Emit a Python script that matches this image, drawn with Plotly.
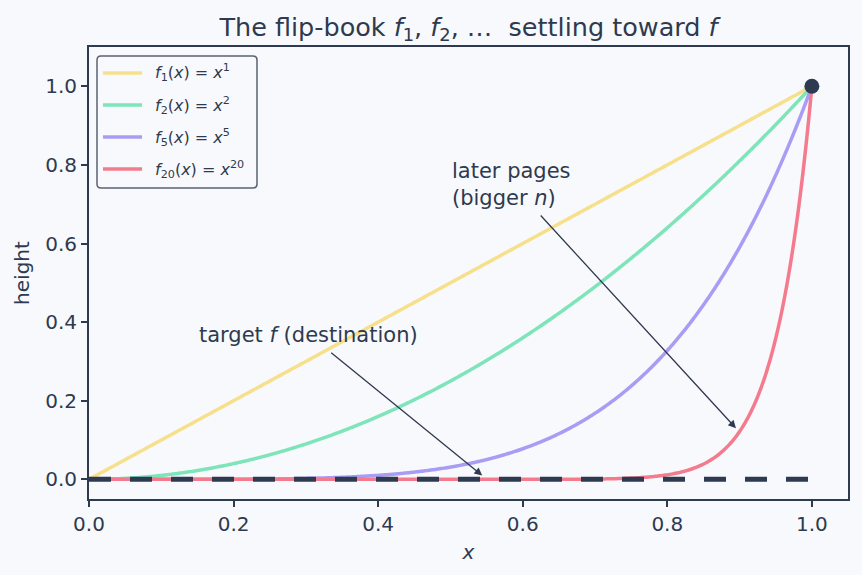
import numpy as np
import plotly.graph_objects as go

# ---- data ----
exponents = [1, 2, 5, 20]
colors = ["#f7e08c", "#7ee4b9", "#a99cf4", "#f47b8d"]
x_grid = np.linspace(0.0, 1.0, 500)
target_x = [0.0, 1.0]
target_y = [0.0, 0.0]
endpoint_x = [1.0]
endpoint_y = [1.0]
x_ticks = [0.0, 0.2, 0.4, 0.6, 0.8, 1.0]
y_ticks = [0.0, 0.2, 0.4, 0.6, 0.8, 1.0]

DARK = "#2e3a4f"
BG = "#f8f9fc"
FONT = "DejaVu Sans"

# plot area in pixels (for legend placement in paper coordinates)
W, H = 862, 575
ML, MR, MT, MB = 89, 14, 47, 76
PW, PH = W - ML - MR, H - MT - MB


def px_x(p):
    return (p - ML) / PW


def px_y(p):
    return (H - MB - p) / PH


fig = go.Figure()
labels = []
for n, c in zip(exponents, colors):
    name = f"<i>f</i><sub>{n}</sub>(<i>x</i>) = <i>x</i><sup>{n}</sup>"
    labels.append(name)
    fig.add_trace(go.Scatter(
        x=x_grid, y=x_grid ** n, mode="lines",
        line=dict(color=c, width=3.5, simplify=False),
        name=name, showlegend=False,
    ))

fig.add_trace(go.Scatter(
    x=target_x, y=target_y, mode="lines",
    line=dict(color=DARK, width=5, dash="22px,19px"),
    showlegend=False, hoverinfo="skip",
))
fig.add_trace(go.Scatter(
    x=endpoint_x, y=endpoint_y, mode="markers",
    marker=dict(color=DARK, size=15),
    showlegend=False, cliponaxis=False,
))

# ---- legend (drawn manually for matplotlib-like spacing) ----
bx0, bx1 = px_x(97), px_x(257)
by0, by1 = px_y(188), px_y(56)
rx, ry = 4 / PW, 4 / PH
path = (f"M{bx0+rx},{by1} L{bx1-rx},{by1} Q{bx1},{by1} {bx1},{by1-ry} "
        f"L{bx1},{by0+ry} Q{bx1},{by0} {bx1-rx},{by0} L{bx0+rx},{by0} "
        f"Q{bx0},{by0} {bx0},{by0+ry} L{bx0},{by1-ry} Q{bx0},{by1} {bx0+rx},{by1} Z")
fig.add_shape(type="path", path=path, xref="paper", yref="paper",
              line=dict(color="#5a6272", width=1.5), fillcolor=BG, layer="above")
for i, (c, name) in enumerate(zip(colors, labels)):
    yy = px_y(73 + 32 * i)
    fig.add_shape(type="line", xref="paper", yref="paper", x0=px_x(103), x1=px_x(142),
                  y0=yy, y1=yy, line=dict(color=c, width=3.5), layer="above")
    fig.add_annotation(x=px_x(153), y=yy, xref="paper", yref="paper", text=name,
                       showarrow=False, xanchor="left", yanchor="middle",
                       font=dict(family=FONT, size=16, color=DARK))

ann_font = dict(family=FONT, size=21, color=DARK)
fig.add_annotation(x=0.15, y=0.366, xref="x", yref="y", text="target <i>f</i> (destination)",
                   showarrow=False, xanchor="left", yanchor="middle", font=ann_font)
fig.add_annotation(x=0.544, y=0.01, ax=0.333, ay=0.325, xref="x", yref="y", axref="x", ayref="y",
                   text="", showarrow=True, arrowhead=2, arrowsize=1.2, arrowwidth=1.3,
                   arrowcolor=DARK)
fig.add_annotation(x=0.50, y=0.749, xref="x", yref="y", text="later pages<br>(bigger <i>n</i>)",
                   showarrow=False, xanchor="left", yanchor="middle", align="left", font=ann_font)
fig.add_annotation(x=0.895, y=0.13, ax=0.623, ay=0.675, xref="x", yref="y", axref="x", ayref="y",
                   text="", showarrow=True, arrowhead=2, arrowsize=1.2, arrowwidth=1.3,
                   arrowcolor=DARK)

axis_common = dict(
    showline=True, linecolor=DARK, linewidth=2, mirror=True,
    ticks="outside", ticklen=6, tickwidth=1.5, tickcolor=DARK,
    showgrid=False, zeroline=False,
    tickfont=dict(family=FONT, size=20, color=DARK),
    tickformat=".1f",
)
fig.update_xaxes(range=[0.0, 1.05], tickvals=x_ticks,
                 title=dict(text="<i>x</i>", font=dict(family=FONT, size=20, color=DARK), standoff=10),
                 **axis_common)
fig.update_yaxes(range=[-0.05, 1.1], tickvals=y_ticks,
                 title=dict(text="height", font=dict(family=FONT, size=20, color=DARK), standoff=10),
                 **axis_common)

fig.update_layout(
    width=W, height=H,
    margin=dict(l=ML, r=MR, t=MT, b=MB),
    paper_bgcolor=BG, plot_bgcolor=BG,
    title=dict(text="The flip-book <i>f</i><sub>1</sub>, <i>f</i><sub>2</sub>, …  settling toward <i>f</i>",
               x=0.5, xref="paper", xanchor="center", y=1 - 27 / 575, yref="container", yanchor="middle",
               font=dict(family=FONT, size=25.5, color=DARK)),
    showlegend=False,
)

fig.write_html("out.html")
